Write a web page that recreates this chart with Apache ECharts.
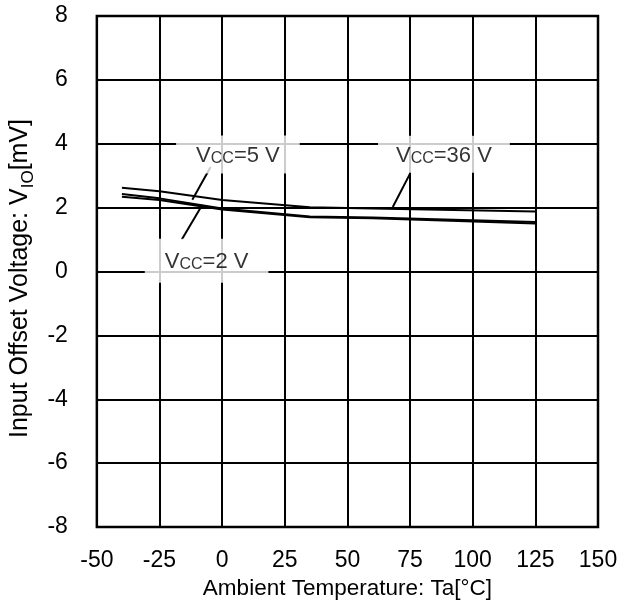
<!DOCTYPE html>
<html>
<head>
<meta charset="utf-8">
<script src="https://cdn.jsdelivr.net/npm/echarts@6/dist/echarts.min.js"></script>
<style>
html,body{margin:0;padding:0;background:#fff;}
#c{width:629px;height:609px;}
</style>
</head>
<body>
<div id="c"></div>
<script>
// ---- data ----
const temperatures = [-40, -25, 0, 35, 60, 125];
const vioVcc36 = [2.62, 2.51, 2.24, 2.01, 1.97, 1.88];
const vioVcc5 = [2.43, 2.29, 1.97, 1.72, 1.69, 1.55];
const vioVcc2 = [2.34, 2.24, 1.94, 1.70, 1.67, 1.50];
const xTicks = [-50, -25, 0, 25, 50, 75, 100, 125, 150];
const yTicks = [-8, -6, -4, -2, 0, 2, 4, 6, 8];
const seriesNames = ['Vcc=36 V', 'Vcc=5 V', 'Vcc=2 V'];

// ---- layout / style ----
const FONT = 'Liberation Sans, Arial, sans-serif';
const pairs = (xs, ys) => xs.map((x, i) => [x, ys[i]]);

// annotation placement (data coords) and leaders
const annotations = [
  { text: '{v|V}{s|CC}{v|=5 V}', at: [6.3, 3.66], pad: [7, 20, 7, 20] },
  { text: '{v|V}{s|CC}{v|=36 V}', at: [88.5, 3.67], pad: [7, 18, 6, 18] },
  { text: '{v|V}{s|CC}{v|=2 V}', at: [-6.2, 0.34], pad: [10, 20, 10, 20] }
];
const leaders = [
  [[-4.6, 3.27], [-11.9, 2.25]],
  [[75.1, 3.08], [68.1, 2.02]],
  [[-16.1, 1.0], [-7.9, 2.09]]
];

function lineSeries(name, ys) {
  return {
    name: name, type: 'line', data: pairs(temperatures, ys),
    symbol: 'none', silent: true,
    lineStyle: { color: '#000', width: 2 }, z: 5
  };
}

const chart = echarts.init(document.getElementById('c'), null, { renderer: 'canvas' });
chart.setOption({
  animation: false,
  backgroundColor: '#fff',
  grid: { left: 94, right: 31, top: 16, bottom: 82, show: true, borderColor: '#000', borderWidth: 2.5, backgroundColor: 'transparent' },
  xAxis: {
    type: 'value', min: xTicks[0], max: xTicks[xTicks.length - 1], interval: 25,
    name: 'Ambient Temperature: Ta[°C]', nameLocation: 'middle', nameGap: 49,
    nameTextStyle: { fontFamily: FONT, fontSize: 22.5, color: '#000' },
    axisLine: { show: false }, axisTick: { show: false },
    axisLabel: { fontFamily: FONT, fontSize: 23, color: '#000', margin: 22 },
    splitLine: { show: true, lineStyle: { color: '#000', width: 2 } }
  },
  yAxis: {
    type: 'value', min: yTicks[0], max: yTicks[yTicks.length - 1], interval: 2,
    name: '{n|Input Offset Voltage: V}{s|IO}{n|[mV]}', nameLocation: 'middle', nameGap: 54, nameRotate: 90,
    nameTextStyle: {
      fontFamily: FONT, fontSize: 25, color: '#000', padding: [0, 14, 0, 0],
      rich: {
        n: { fontFamily: FONT, fontSize: 25, color: '#000', lineHeight: 32, verticalAlign: 'middle' },
        s: { fontFamily: FONT, fontSize: 17, color: '#000', lineHeight: 32, verticalAlign: 'bottom' }
      }
    },
    axisLine: { show: false }, axisTick: { show: false },
    axisLabel: { fontFamily: FONT, fontSize: 23, color: '#000', margin: 29 },
    splitLine: { show: true, lineStyle: { color: '#000', width: 2 } }
  },
  series: [
    lineSeries(seriesNames[0], vioVcc36),
    lineSeries(seriesNames[1], vioVcc5),
    lineSeries(seriesNames[2], vioVcc2),
    {
      type: 'scatter', symbolSize: 0, silent: true, z: 10,
      data: annotations.map(a => ({
        value: a.at,
        label: {
          show: true, position: 'inside', formatter: a.text,
          backgroundColor: '#fff', padding: a.pad,
          rich: {
            v: { fontFamily: FONT, fontSize: 22, color: '#000', lineHeight: 24, verticalAlign: 'bottom' },
            s: { fontFamily: FONT, fontSize: 16, color: '#000', lineHeight: 24, verticalAlign: 'bottom' }
          }
        }
      })),
      markLine: {
        silent: true, symbol: 'none', animation: false,
        label: { show: false },
        lineStyle: { color: '#000', width: 2, type: 'solid' },
        data: leaders.map(l => [{ coord: l[0] }, { coord: l[1] }])
      }
    }
  ]
});
</script>
</body>
</html>
